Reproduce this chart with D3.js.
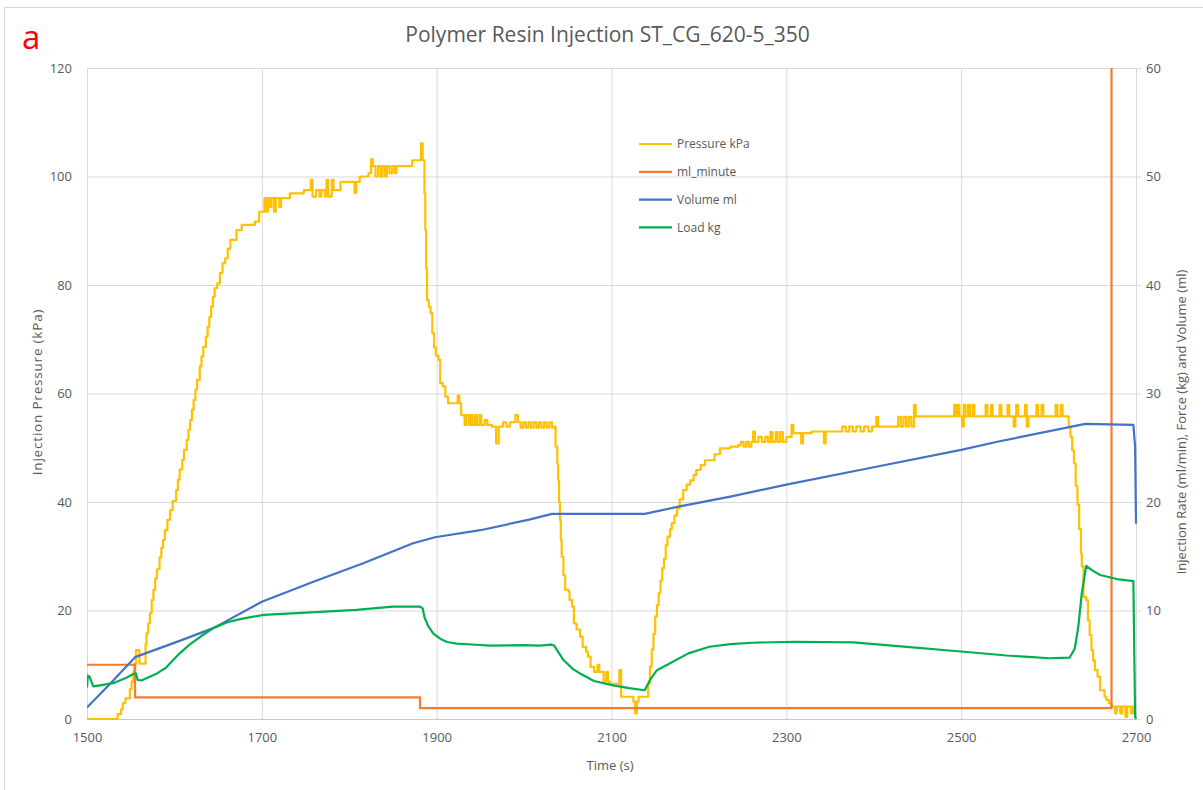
<!DOCTYPE html>
<html>
<head>
<meta charset="utf-8">
<script src="https://cdn.jsdelivr.net/npm/d3@7"></script>
<style>
  body { margin: 0; background: #fff; }
  text { font-family: "Open Sans", "Noto Sans", sans-serif; }
</style>
</head>
<body>
<svg id="chart" width="1203" height="790"></svg>
<script>
// ---- axis ticks ----
const timeTicks = [1500, 1700, 1900, 2100, 2300, 2500, 2700];
const pressureTicks = [0, 20, 40, 60, 80, 100, 120];
const rightTicks = [0, 10, 20, 30, 40, 50, 60];

// ---- series names and colours ----
const seriesNames = ["Pressure kPa", "ml_minute", "Volume ml", "Load kg"];
const seriesColors = ["#FFC000", "#ED7D31", "#4472C4", "#00B050"];

// ---- Pressure kPa (left axis), [time s, kPa], held until next sample ----
const pressureData = [
  [1500,0],[1535,0.9],[1539,1.8],[1541,2.9],[1544,3.8],[1549,5.5],[1551,6.9],[1553,8.7],[1554,10.2],
  [1556,12.7],[1560,10.2],[1567,13.8],[1568,15.8],[1570,17.6],[1572,19.5],[1574,21.9],[1576,23.8],
  [1578,25.9],[1580,27.6],[1583,29.8],[1585,31.5],[1587,33.0],[1589,34.8],[1592,36.7],[1595,38.5],
  [1598,40.2],[1602,42.2],[1604,44.1],[1606,46.0],[1609,47.8],[1611,49.6],[1614,51.4],[1616,53.3],
  [1618,55.1],[1620,57.0],[1622,58.8],[1624,60.7],[1626,62.5],[1629,65.0],[1631,66.8],[1633,68.6],
  [1636,70.5],[1638,72.3],[1640,74.1],[1642,76.0],[1644,77.8],[1646,79.4],[1649,80.3],[1652,82.2],
  [1655,84.0],[1658,84.9],[1661,86.7],[1664,88.3],[1671,90.1],[1677,91.1],[1692,91.7],[1697,93.5],
  [1703,96.0],[1705,93.5],[1707,96.0],[1709,94.4],[1711,96.0],[1714,93.5],[1716,96.0],[1720,94.4],
  [1722,96.0],[1732,96.9],[1748,97.5],[1756,99.4],[1758,96.3],[1762,97.5],[1766,96.3],[1768,97.5],
  [1772,96.3],[1774,99.4],[1776,96.3],[1780,99.4],[1782,97.5],[1790,99.0],[1806,97.0],[1808,99.0],
  [1812,100.0],[1822,100.6],[1825,103.2],[1827,101.9],[1830,100.0],[1833,101.9],[1836,100.0],
  [1838,101.9],[1841,100.0],[1843,101.9],[1846,100.6],[1849,101.9],[1852,100.6],[1854,101.9],
  [1872,103.0],[1882,106.1],[1884,103.0],[1886,96.9],[1887,90.1],[1888,83.0],[1889,77.2],[1891,76.0],
  [1893,74.8],[1895,71.1],[1897,68.5],[1899,67.0],[1902,66.2],[1904,61.9],[1907,61.3],[1910,59.4],
  [1913,58.2],[1924,59.6],[1926,58.2],[1928,56.0],[1932,54.2],[1934,56.0],[1937,54.2],[1939,56.0],
  [1941,54.2],[1944,56.0],[1946,54.2],[1949,56.0],[1951,54.2],[1955,55.1],[1958,54.2],[1963,53.9],
  [1968,50.8],[1971,53.9],[1976,54.7],[1980,53.9],[1984,54.7],[1990,56.0],[1993,54.7],[1996,53.7],
  [1999,54.7],[2002,53.7],[2005,54.7],[2008,53.7],[2011,54.7],[2014,53.7],[2017,54.7],[2020,53.7],
  [2023,54.7],[2026,53.7],[2029,54.7],[2032,53.7],[2035,53.9],
  [2036,50.2],[2038,47.0],[2039,44.0],[2040,40.0],[2041,36.7],[2042,33.0],[2043,29.9],[2045,26.5],
  [2047,23.8],[2051,23.5],[2052,21.9],[2055,20.7],[2057,17.6],[2060,16.5],[2064,15.2],[2067,13.3],
  [2071,12.4],[2073,11.5],[2076,9.6],[2080,8.7],[2084,10.0],[2086,8.7],[2091,6.9],[2094,8.7],
  [2096,6.9],[2098,6.5],[2109,9.0],[2111,4.1],[2125,3.2],[2127,1.05],[2129,3.2],[2131,4.1],
  [2142,6.5],[2144,9.6],[2146,12.8],[2148,15.7],[2150,18.9],[2152,21.0],[2154,23.2],[2156,25.5],
  [2158,27.8],[2160,29.5],[2162,32.0],[2164,33.6],[2167,35.0],[2169,36.1],[2172,37.5],[2175,38.8],
  [2178,40.5],[2182,42.2],[2186,43.2],[2190,44.0],[2194,45.0],[2197,45.9],[2202,46.8],[2207,47.7],
  [2218,48.8],[2224,49.9],[2236,50.2],[2245,50.5],[2248,51.1],[2251,50.2],[2254,51.1],[2257,50.2],
  [2260,51.1],[2262,53.0],[2264,51.1],[2268,52.0],[2272,51.1],[2276,52.0],[2279,51.1],[2282,52.9],
  [2284,51.1],[2288,52.9],[2290,51.1],[2293,52.9],[2296,51.1],[2300,52.0],[2306,54.2],[2308,52.7],
  [2317,50.8],[2319,52.7],[2329,53.0],[2343,50.8],[2345,53.0],[2364,53.9],[2368,53.0],[2372,53.9],
  [2376,53.0],[2380,53.9],[2385,53.0],[2389,53.9],[2394,53.0],[2398,53.9],[2403,55.7],[2405,53.9],
  [2428,55.7],[2431,53.9],[2434,55.7],[2437,53.9],[2440,55.7],[2443,53.9],[2446,57.9],[2448,55.8],
  [2492,57.9],[2494,55.8],[2496,57.9],[2498,55.8],[2501,53.9],[2503,57.9],[2505,55.8],[2508,57.9],
  [2510,55.8],[2513,57.9],[2515,55.8],[2528,57.9],[2530,55.8],[2534,57.9],[2536,55.8],[2544,57.9],
  [2546,55.8],[2553,57.9],[2555,55.8],[2560,53.9],[2562,55.8],[2563,57.9],[2565,55.8],[2573,57.9],
  [2575,53.9],[2577,55.8],[2586,57.9],[2588,55.8],[2592,57.9],[2594,55.8],[2608,57.9],[2610,55.8],
  [2614,57.9],[2616,55.8],[2621,55.8],[2623,54.0],[2625,52.0],[2627,49.5],[2629,47.1],[2631,43.0],
  [2633,39.5],[2635,35.0],[2637,30.5],[2638,28.1],[2640,22.5],[2643,21.9],[2645,18.2],[2647,15.5],
  [2649,12.7],[2651,10.8],[2653,9.0],[2656,7.8],[2659,5.3],[2664,4.1],[2666,3.5],[2669,2.9],
  [2672,2.3],[2676,1.05],[2678,2.3],[2682,1.05],[2684,2.3],[2688,0.4],[2690,2.3],[2694,1.05],
  [2696,2.3],[2698,1.05],[2700,1.05]
];

// ---- ml_minute (right axis), set-point held until next change ----
const mlMinuteData = [[1500,5],[1555,2],[1881,1],[2672,100],[2700,100]];

// ---- Volume ml (right axis) ----
const volumeData = [
  [1500,1.05],[1527,3.3],[1555,5.7],[1606,7.2],[1645,8.4],[1700,10.8],[1759,12.65],[1816,14.35],
  [1873,16.2],[1898,16.75],[1950,17.4],[2007,18.4],[2032,18.9],[2138,18.9],[2178,19.6],[2236,20.5],
  [2300,21.6],[2400,23.2],[2500,24.8],[2544,25.6],[2642,27.2],[2697,27.1],[2699,25.1],[2700,18.0]
];

// ---- Load kg (right axis) ----
const loadData = [
  [1500,2.9],[1501,4.0],[1503,3.9],[1507,3.0],[1515,3.1],[1530,3.3],[1545,3.8],[1553,4.15],
  [1556,4.2],[1558,3.6],[1562,3.55],[1568,3.75],[1580,4.2],[1590,4.7],[1606,6.05],[1618,6.9],
  [1630,7.6],[1645,8.4],[1660,8.9],[1675,9.2],[1702,9.6],[1751,9.8],[1808,10.05],[1850,10.35],
  [1881,10.35],[1884,10.2],[1886,9.4],[1890,8.6],[1896,7.9],[1904,7.4],[1912,7.1],[1923,6.95],
  [1950,6.82],[1961,6.76],[2000,6.8],[2018,6.76],[2031,6.85],[2034,6.8],[2045,5.44],[2056,4.6],
  [2064,4.2],[2080,3.5],[2102,3.1],[2120,2.85],[2138,2.65],[2144,3.6],[2152,4.5],[2167,5.13],
  [2188,6.05],[2212,6.66],[2236,6.9],[2261,7.03],[2310,7.12],[2377,7.06],[2431,6.7],[2503,6.2],
  [2552,5.85],[2582,5.7],[2600,5.6],[2624,5.65],[2630,6.5],[2634,8.5],[2638,11.6],[2643,14.1],
  [2650,13.7],[2659,13.27],[2678,12.9],[2697,12.7],[2699,0.2],[2700,0]
];

// ---- layout ----
const W = 1203, H = 790;
const plot = { left: 87, right: 1136, top: 68, bottom: 719 };
const textColor = "#595959";
const gridColor = "#d9d9d9";

const svg = d3.select("#chart");

// outer chart frame
svg.append("rect")
  .attr("x", 4.5).attr("y", 7.5)
  .attr("width", W + 20).attr("height", H + 20)
  .attr("fill", "#fff").attr("stroke", gridColor).attr("stroke-width", 1);

const x = d3.scaleLinear().domain([1500, 2700]).range([plot.left, plot.right]);
const yL = d3.scaleLinear().domain([0, 120]).range([plot.bottom, plot.top]);
const yR = d3.scaleLinear().domain([0, 60]).range([plot.bottom, plot.top]);

// gridlines
const gridH = svg.append("g")
  .attr("transform", `translate(${plot.left},0)`)
  .call(d3.axisLeft(yL).tickValues(pressureTicks).tickSize(-(plot.right - plot.left)).tickFormat(""));
gridH.select(".domain").remove();
gridH.selectAll("line").attr("stroke", gridColor);

const gridV = svg.append("g")
  .attr("transform", `translate(0,${plot.bottom})`)
  .call(d3.axisBottom(x).tickValues(timeTicks).tickSize(-(plot.bottom - plot.top)).tickFormat(""));
gridV.select(".domain").remove();
gridV.selectAll("line").attr("stroke", gridColor);

// bottom axis line
svg.append("line")
  .attr("x1", plot.left).attr("x2", plot.right)
  .attr("y1", plot.bottom + 0.5).attr("y2", plot.bottom + 0.5)
  .attr("stroke", "#c8c8c8");

// left axis labels
const axL = svg.append("g")
  .attr("transform", `translate(${plot.left},0)`)
  .call(d3.axisLeft(yL).tickValues(pressureTicks).tickSize(0).tickPadding(15).tickFormat(d3.format("d")));
axL.select(".domain").remove();
axL.selectAll("text").attr("fill", textColor).style("font-size", "13px");

// right axis labels with short outward ticks
const axR = svg.append("g")
  .attr("transform", `translate(${plot.right},0)`)
  .call(d3.axisRight(yR).tickValues(rightTicks).tickSize(5).tickPadding(5).tickFormat(d3.format("d")));
axR.select(".domain").remove();
axR.selectAll("line").attr("stroke", gridColor);
axR.selectAll("text").attr("fill", textColor).style("font-size", "13px");

// bottom axis labels
const axB = svg.append("g")
  .attr("transform", `translate(0,${plot.bottom})`)
  .call(d3.axisBottom(x).tickValues(timeTicks).tickSize(0).tickPadding(14).tickFormat(d3.format("d")));
axB.select(".domain").remove();
axB.selectAll("text").attr("fill", textColor).style("font-size", "13px");

// clip for series
svg.append("clipPath").attr("id", "plotClip")
  .append("rect")
  .attr("x", plot.left).attr("y", plot.top)
  .attr("width", plot.right - plot.left + 2).attr("height", plot.bottom - plot.top + 2);

const series = svg.append("g").attr("clip-path", "url(#plotClip)");

const stepLineL = d3.line().x(d => x(d[0])).y(d => yL(d[1])).curve(d3.curveStepAfter);
const stepLineR = d3.line().x(d => x(d[0])).y(d => yR(d[1])).curve(d3.curveStepAfter);
const lineR = d3.line().x(d => x(d[0])).y(d => yR(d[1]));

const strokeW = 2.2;
series.append("path").datum(pressureData)
  .attr("d", stepLineL).attr("fill", "none")
  .attr("stroke", seriesColors[0]).attr("stroke-width", strokeW).attr("stroke-linejoin", "round");
series.append("path").datum(mlMinuteData)
  .attr("d", stepLineR).attr("fill", "none")
  .attr("stroke", seriesColors[1]).attr("stroke-width", strokeW);
series.append("path").datum(volumeData)
  .attr("d", lineR).attr("fill", "none")
  .attr("stroke", seriesColors[2]).attr("stroke-width", strokeW).attr("stroke-linejoin", "round");
series.append("path").datum(loadData)
  .attr("d", lineR).attr("fill", "none")
  .attr("stroke", seriesColors[3]).attr("stroke-width", strokeW).attr("stroke-linejoin", "round");

// legend
const legend = svg.append("g").attr("transform", "translate(639,144)");
seriesNames.forEach((name, i) => {
  const row = legend.append("g").attr("transform", `translate(0,${i * 27.8})`);
  row.append("line").attr("x1", 0).attr("x2", 33).attr("y1", 0).attr("y2", 0)
    .attr("stroke", seriesColors[i]).attr("stroke-width", strokeW);
  row.append("text").attr("x", 38).attr("y", 0).attr("dy", "0.35em")
    .attr("fill", textColor).style("font-size", "12px").text(name);
});

// title
svg.append("text")
  .attr("x", 607.5).attr("y", 42).attr("text-anchor", "middle")
  .attr("fill", textColor).style("font-size", "21px")
  .text("Polymer Resin Injection ST_CG_620-5_350");

// panel letter
svg.append("text")
  .attr("x", 22).attr("y", 49)
  .attr("fill", "#ff0000").style("font-size", "33px")
  .text("a");

// axis titles
svg.append("text")
  .attr("transform", "translate(42,392) rotate(-90)")
  .attr("text-anchor", "middle").attr("fill", textColor)
  .style("font-size", "13.5px").style("letter-spacing", "0.8px")
  .text("Injection Pressure (kPa)");

svg.append("text")
  .attr("transform", "translate(1186,422) rotate(-90)")
  .attr("text-anchor", "middle").attr("fill", textColor).style("font-size", "13px")
  .text("Injection Rate (ml/min), Force (kg) and Volume (ml)");

svg.append("text")
  .attr("x", 610).attr("y", 770).attr("text-anchor", "middle")
  .attr("fill", textColor).style("font-size", "13px")
  .text("Time (s)");
</script>
</body>
</html>
